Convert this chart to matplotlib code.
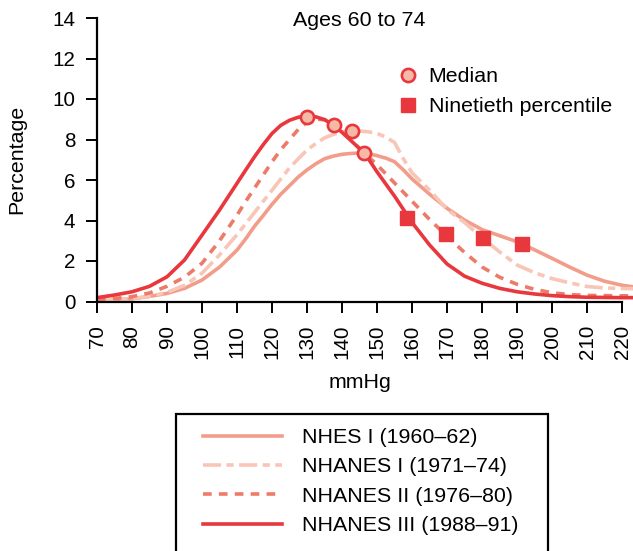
import matplotlib
matplotlib.use("Agg")
import matplotlib.pyplot as plt
from matplotlib.lines import Line2D
from matplotlib.patches import Rectangle

plt.rcParams["font.family"] = ["Liberation Sans", "DejaVu Sans"]

# systolic blood pressure distribution, ages 60-74 (mmHg vs. percentage)
mmhg = [70, 75, 80, 85, 90, 95, 100, 105,
        110, 112.5, 115, 117.5, 120, 122.5, 125, 127.5, 130, 132.5, 135, 137.5,
        140, 142.5, 145, 147.5, 150, 152.5, 155, 157.5, 160,
        165, 170, 175, 180, 185, 190, 195, 200, 205, 210, 215, 220, 225]

nhes1 = [0.10, 0.10, 0.13, 0.25, 0.40, 0.65, 1.06, 1.70,
         2.54, 3.10, 3.72, 4.25, 4.80, 5.30, 5.72, 6.15, 6.50, 6.80, 7.05, 7.18,
         7.27, 7.31, 7.33, 7.30, 7.20, 7.08, 6.90, 6.50, 6.05,
         5.30, 4.60, 4.02, 3.55, 3.25, 2.95, 2.55, 2.13, 1.70, 1.30, 1.00, 0.80, 0.68]
nhanes1 = [0.08, 0.10, 0.15, 0.25, 0.45, 0.80, 1.40, 2.30,
           3.30, 3.85, 4.40, 4.95, 5.50, 6.05, 6.60, 7.05, 7.48, 7.80, 8.08, 8.25,
           8.38, 8.43, 8.42, 8.38, 8.30, 8.12, 7.85, 7.05, 6.35,
           5.50, 4.55, 3.90, 3.15, 2.45, 1.80, 1.42, 1.13, 0.92, 0.74, 0.67, 0.64, 0.63]
nhanes2 = [0.10, 0.15, 0.24, 0.42, 0.75, 1.20, 1.89, 3.00,
           4.27, 4.95, 5.60, 6.25, 6.90, 7.50, 8.00, 8.50, 8.85, 9.00, 8.98, 8.75,
           8.45, 8.00, 7.55, 7.15, 6.75, 6.30, 5.85, 5.40, 4.95,
           4.05, 3.22, 2.42, 1.70, 1.20, 0.85, 0.60, 0.43, 0.34, 0.30, 0.29, 0.28, 0.28]
nhanes3 = [0.19, 0.32, 0.48, 0.75, 1.22, 2.05, 3.28, 4.52,
           5.84, 6.50, 7.15, 7.75, 8.30, 8.70, 8.95, 9.10, 9.15, 9.12, 8.98, 8.72,
           8.35, 7.95, 7.55, 7.05, 6.40, 5.80, 5.20, 4.55, 3.90,
           2.79, 1.85, 1.25, 0.90, 0.65, 0.48, 0.37, 0.29, 0.24, 0.21, 0.20, 0.19, 0.19]

survey_labels = ["NHES I (1960\u201362)", "NHANES I (1971\u201374)",
                 "NHANES II (1976\u201380)", "NHANES III (1988\u201391)"]

median_x = [130.1, 137.8, 142.7, 146.4]
median_y = [9.13, 8.70, 8.44, 7.33]
p90_x = [158.6, 169.7, 180.3, 191.5]
p90_y = [4.14, 3.34, 3.12, 2.86]

RED = "#e8383d"
C_NHES1 = "#f29d8a"
C_NHANES1 = "#f8c5b6"
C_NHANES2 = "#ec7b6a"
C_NHANES3 = RED
MED_FACE = "#f5b9a8"

FS = 15.4
TFS = 14.9

fig = plt.figure(figsize=(6.33, 5.51), dpi=100)
ax = fig.add_axes([97 / 633, 1 - 301.5 / 551, 536 / 633, 283.5 / 551])

lw = 2.6
l1, = ax.plot(mmhg, nhes1, color=C_NHES1, lw=lw)
l2, = ax.plot(mmhg, nhanes1, color=C_NHANES1, lw=lw, dashes=(5.0, 1.5, 2.0, 1.5))
l3, = ax.plot(mmhg, nhanes2, color=C_NHANES2, lw=lw, dashes=(2.4, 2.0))
l4, = ax.plot(mmhg, nhanes3, color=C_NHANES3, lw=lw)

ax.plot(median_x, median_y, "o", ms=9.5, mfc=MED_FACE, mec=RED, mew=1.9, zorder=5)
ax.plot(p90_x, p90_y, "s", ms=10, color=RED, mec=RED, zorder=5)

ax.set_xlim(70, 223.1)
ax.set_ylim(0, 14)
ax.set_xticks(range(70, 221, 10))
ax.set_yticks(range(0, 15, 2))
ax.tick_params(axis="x", labelrotation=90, labelsize=TFS, length=8, width=1.4, pad=9)
ax.tick_params(axis="y", labelsize=TFS, length=8, width=1.4, pad=7.5)
for s in ["top", "right"]:
    ax.spines[s].set_visible(False)
for s in ["left", "bottom"]:
    ax.spines[s].set_linewidth(1.6)
ax.spines["bottom"].set_bounds(70, 220)

ax.text(0.49, 0.99, "Ages 60 to 74", transform=ax.transAxes, ha="center", va="center",
        fontsize=FS)
ax.set_ylabel("Percentage", fontsize=FS)
ax.yaxis.set_label_coords(-0.132, 0.5)
fig.text(360 / 633, 1 - 383 / 551, "mmHg", ha="center", va="center", fontsize=FS)

marker_handles = [
    Line2D([], [], ls="none", marker="o", ms=9.5, mfc=MED_FACE, mec=RED, mew=1.9),
    Line2D([], [], ls="none", marker="s", ms=10, color=RED),
]
ax.legend(marker_handles, ["Median", "Ninetieth percentile"], loc="upper left",
          bbox_to_anchor=(0.561, 0.827), frameon=False, fontsize=FS,
          handlelength=1.0, handletextpad=0.45, labelspacing=0.53,
          borderpad=0, borderaxespad=0)

# bottom legend: open box, cut by the figure edge
fig.patches.append(Rectangle((176 / 633, -0.05), (548 - 176) / 633, 1.05 - 414 / 551,
                             transform=fig.transFigure, fill=False, ec="black", lw=1.6))
fig.legend([l1, l2, l3, l4], survey_labels, loc="upper left",
           bbox_to_anchor=(203 / 633, 1 - 428 / 551), fontsize=FS,
           handlelength=3.7, handletextpad=0.93, labelspacing=0.49,
           borderpad=0, borderaxespad=0, frameon=False)

fig.savefig("out.png", dpi=100)
